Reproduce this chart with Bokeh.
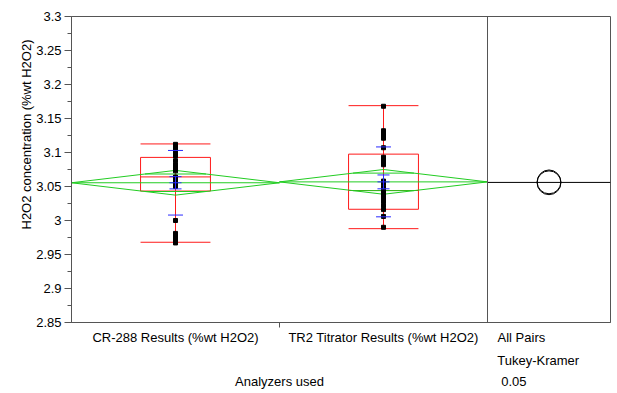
from bokeh.plotting import figure
from bokeh.models import Range1d, FixedTicker, Span, Title, LinearAxis
from bokeh.embed import file_html
from bokeh.resources import INLINE
import math

# ---------------- data ----------------
groups = ["CR-288 Results (%wt H2O2)", "TR2 Titrator Results (%wt H2O2)"]
group_x = [0.5, 1.5]

cr_values = [3.112, 3.109, 3.106, 3.103, 3.100, 3.098, 3.095, 3.088,
             3.082, 3.079, 3.076, 3.073, 3.064, 3.061, 3.058, 3.055,
             3.052, 3.050, 3.000, 2.981, 2.978, 2.975, 2.972, 2.969, 2.967]
tr_values = [3.168, 3.132, 3.130, 3.127, 3.124, 3.121, 3.107, 3.093,
             3.090, 3.086, 3.082, 3.058, 3.054, 3.048, 3.042, 3.038,
             3.033, 3.028, 3.022, 3.016, 3.006, 2.990]

q_min = [2.968, 2.988]
q1 = [3.0433, 3.0165]
median = [3.0641, 3.0441]
q3 = [3.0928, 3.0976]
q_max = [3.1126, 3.1689]

means = [3.0555, 3.0568]
sds = [0.0475, 0.0514]
ses = [0.0090, 0.0102]
ci95 = [0.0182, 0.0182]
grand_mean = 3.0560
circle_radius = [0.0175, 0.0175]

y_ticks = [2.85, 2.9, 2.95, 3.0, 3.05, 3.1, 3.15, 3.2, 3.25, 3.3]
y_tick_labels = ["2.85", "2.9", "2.95", "3", "3.05", "3.1", "3.15", "3.2", "3.25", "3.3"]
y_title = "H2O2 concentration (%wt H2O2)"
x_title = "Analyzers used"
compare_lines = ["All Pairs", "Tukey-Kramer", "0.05"]

# ---------------- styling ----------------
FONT = "Liberation Sans"
RED = "#ff1a1a"
GREEN = "#22cc22"
BLUE = "#2a2aff"
FRAME = "#555555"
BOX_HW = 0.168
SD_HW = 0.036
SE_HW = 0.029
OVL_HW = 0.5 * (1 - 1 / math.sqrt(2))
PANEL_W = 0.5913
# text anchor positions (x data units) for the comparison-panel captions
CMP_X = [2.163, 2.244, 2.127]

p = figure(width=615, height=391, output_backend="svg", toolbar_location=None,
           x_range=Range1d(0, 2 + PANEL_W), y_range=Range1d(2.85, 3.3),
           min_border_left=71, min_border_right=5, min_border_top=16,
           min_border_bottom=66)
p.xgrid.visible = False
p.ygrid.visible = False
p.outline_line_color = FRAME
p.outline_line_width = 1
p.background_fill_color = "white"
p.border_fill_color = "white"


def style_labels(ax):
    ax.major_label_text_font = FONT
    ax.major_label_text_font_size = "13px"
    ax.major_label_text_color = "black"


# y axis
ya = p.yaxis[0]
ya.ticker = FixedTicker(ticks=y_ticks,
                        minor_ticks=[(a + b) / 2 for a, b in zip(y_ticks[:-1], y_ticks[1:])])
ya.major_label_overrides = {t: l for t, l in zip(y_ticks, y_tick_labels)}
ya.major_tick_out = 7
ya.major_tick_in = 0
ya.minor_tick_out = 4
ya.minor_tick_in = 0
ya.major_label_standoff = 3
ya.axis_line_color = FRAME
ya.major_tick_line_color = FRAME
ya.minor_tick_line_color = FRAME
style_labels(ya)

# y title
p.add_layout(Title(text=y_title, align="left", offset=93, standoff=0,
                   text_font=FONT, text_font_size="13px", text_font_style="normal",
                   text_color="black"), "left")

# x axis (row 1: category names + "All Pairs")
xa = p.xaxis[0]
xa.ticker = FixedTicker(ticks=group_x + [CMP_X[0]], minor_ticks=[1.0])
xa.major_label_overrides = {x: g for x, g in zip(group_x + [CMP_X[0]],
                                                 groups + [compare_lines[0]])}
xa.major_tick_line_color = None
xa.major_tick_out = 0
xa.major_tick_in = 0
xa.minor_tick_out = 5
xa.minor_tick_in = 0
xa.minor_tick_line_color = FRAME
xa.axis_line_color = FRAME
xa.major_label_standoff = 2
style_labels(xa)

# row 2: "Tukey-Kramer"
ax2 = LinearAxis(ticker=FixedTicker(ticks=[CMP_X[1]], minor_ticks=[]),
                 major_label_overrides={CMP_X[1]: compare_lines[1]},
                 axis_line_color=None, major_tick_line_color=None,
                 minor_tick_line_color=None, major_tick_out=0, minor_tick_out=0,
                 major_tick_in=0, minor_tick_in=0, major_label_standoff=5)
style_labels(ax2)
p.add_layout(ax2, "below")

# row 3: axis title "Analyzers used" and "0.05"
ax3 = LinearAxis(ticker=FixedTicker(ticks=[1.0, CMP_X[2]], minor_ticks=[]),
                 major_label_overrides={1.0: x_title, CMP_X[2]: compare_lines[2]},
                 axis_line_color=None, major_tick_line_color=None,
                 minor_tick_line_color=None, major_tick_out=0, minor_tick_out=0,
                 major_tick_in=0, minor_tick_in=0, major_label_standoff=3)
style_labels(ax3)
p.add_layout(ax3, "below")

# panel divider
p.add_layout(Span(location=2, dimension="height", line_color=FRAME, line_width=1))

# ---------------- quantile boxes (red) ----------------
p.segment(x0=group_x, y0=q_min, x1=group_x, y1=q_max, line_color=RED, line_width=1)
p.quad(left=[x - BOX_HW for x in group_x], right=[x + BOX_HW for x in group_x],
       bottom=q1, top=q3, fill_color=None, line_color=RED, line_width=1)
for ys in (median, q_min, q_max):
    p.segment(x0=[x - BOX_HW for x in group_x], y0=ys,
              x1=[x + BOX_HW for x in group_x], y1=ys, line_color=RED, line_width=1)

# ---------------- means diamonds (green) ----------------
xs_d, ys_d = [], []
for x, m, c in zip(group_x, means, ci95):
    xs_d.append([x - 0.5, x, x + 0.5, x, x - 0.5])
    ys_d.append([m, m + c, m, m - c, m])
p.multi_line(xs=xs_d, ys=ys_d, line_color=GREEN, line_width=1)
p.segment(x0=[x - 0.5 for x in group_x], y0=means, x1=[x + 0.5 for x in group_x],
          y1=means, line_color=GREEN, line_width=1)
for sgn in (1, -1):
    yo = [m + sgn * c / math.sqrt(2) for m, c in zip(means, ci95)]
    p.segment(x0=[x - OVL_HW for x in group_x], y0=yo, x1=[x + OVL_HW for x in group_x],
              y1=yo, line_color=GREEN, line_width=1)

# ---------------- data points ----------------
p.scatter(x=[group_x[0]] * len(cr_values), y=cr_values, marker="square", size=4,
          fill_color="black", line_color="black")
p.scatter(x=[group_x[1]] * len(tr_values), y=tr_values, marker="square", size=4,
          fill_color="black", line_color="black")

# ---------------- std dev lines & mean error bars (blue) ----------------
for sgn in (1, -1):
    ysd = [m + sgn * s for m, s in zip(means, sds)]
    p.segment(x0=[x - SD_HW for x in group_x], y0=ysd, x1=[x + SD_HW for x in group_x],
              y1=ysd, line_color=BLUE, line_width=1)
    yse = [m + sgn * s for m, s in zip(means, ses)]
    p.segment(x0=[x - SE_HW for x in group_x], y0=yse, x1=[x + SE_HW for x in group_x],
              y1=yse, line_color=BLUE, line_width=1)
p.segment(x0=group_x, y0=[m - s for m, s in zip(means, ses)], x1=group_x,
          y1=[m + s for m, s in zip(means, ses)], line_color=BLUE, line_width=1)
p.segment(x0=[x - SE_HW for x in group_x], y0=means, x1=[x + SE_HW for x in group_x],
          y1=means, line_color=BLUE, line_width=1)

# ---------------- comparison circles panel ----------------
p.segment(x0=[2], y0=[grand_mean], x1=[2 + PANEL_W], y1=[grand_mean],
          line_color="black", line_width=1)
p.circle(x=[2 + PANEL_W / 2] * len(means), y=means, radius=circle_radius,
         radius_dimension="y", fill_color=None, line_color="black", line_width=1)

open("out.html", "w").write(file_html(p, INLINE))
